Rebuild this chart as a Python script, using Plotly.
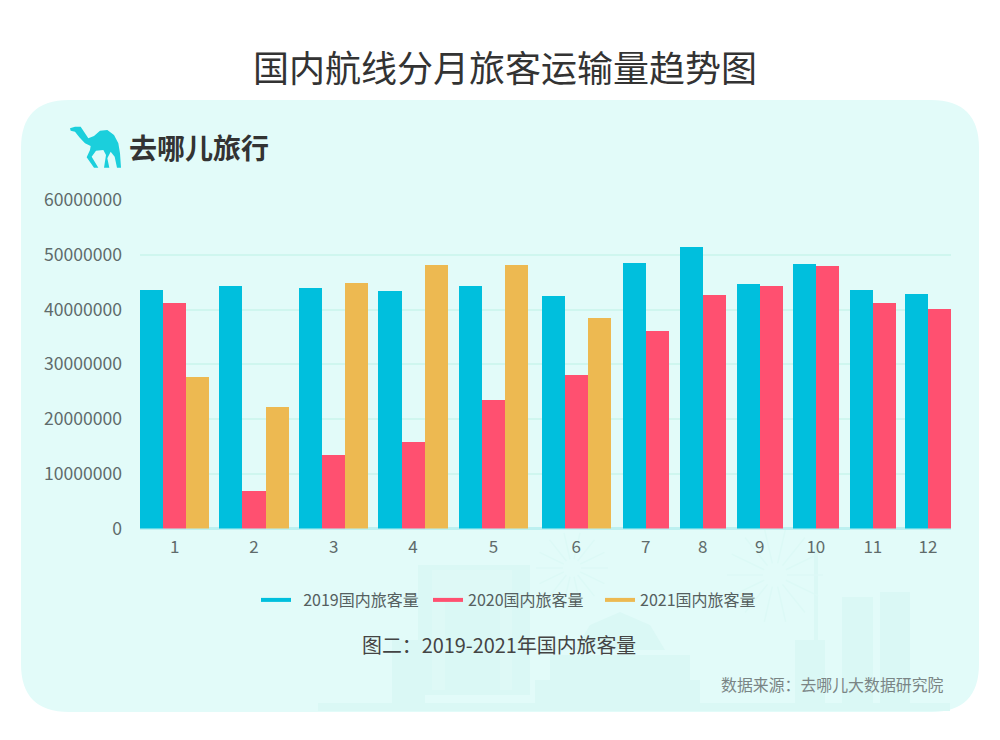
import math
import plotly.graph_objects as go

months = [1, 2, 3, 4, 5, 6, 7, 8, 9, 10, 11, 12]
series_names = ["2019国内旅客量", "2020国内旅客量", "2021国内旅客量"]
values_2019 = [43600000, 44300000, 44000000, 43400000, 44300000, 42500000,
               48500000, 51400000, 44700000, 48300000, 43600000, 42900000]
values_2020 = [41200000, 6900000, 13400000, 15800000, 23500000, 28100000,
               36100000, 42700000, 44300000, 48000000, 41200000, 40100000]
values_2021 = [27700000, 22200000, 44900000, 48200000, 48200000, 38500000,
               None, None, None, None, None, None]
y_ticks = [0, 10000000, 20000000, 30000000, 40000000, 50000000, 60000000]
title_text = "国内航线分月旅客运输量趋势图"
caption_text = "图二：2019-2021年国内旅客量"
source_text = "数据来源：去哪儿大数据研究院"
brand_text = "去哪儿旅行"
colors = ["#00BFDD", "#FF5070", "#EDB951"]

FONT = "Noto Sans CJK SC"
W, H = 1000, 740
CARD = "#E2FBF9"
FAINT = "#DAF8F5"
BAR_PX = 23.1
MONTH_GAPS_PX = [10, 10.4, 10, 11, 13.5, 11.7, 10.8, 10.8, 9.8, 10.8, 8.8, 0]


def X(x):
    return x / W


def Y(y):
    return 1 - y / H


def pth(points, close=True):
    s = "M " + " L ".join(f"{X(a):.5f},{Y(b):.5f}" for a, b in points)
    return s + (" Z" if close else "")


def rect(x0, y0, x1, y1, color=FAINT):
    return dict(type="rect", xref="paper", yref="paper", x0=X(x0), x1=X(x1),
                y0=Y(y1), y1=Y(y0), fillcolor=color, layer="below", line_width=0)


# Slots: each month takes as many slots as it has values, with a gap between months.
all_series = [values_2019, values_2020, values_2021]
positions = [[None] * len(months) for _ in all_series]
centers = []
cursor = 0.0
for m in range(len(months)):
    first = cursor
    for s, vals in enumerate(all_series):
        if vals[m] is not None:
            positions[s][m] = cursor + 0.5
            cursor += 1
    centers.append((first + cursor) / 2)
    cursor += MONTH_GAPS_PX[m] / BAR_PX
x_end = cursor

fig = go.Figure()
for s, vals in enumerate(all_series):
    xs = [p for p in positions[s] if p is not None]
    ys = [v for v in vals if v is not None]
    fig.add_trace(go.Bar(x=xs, y=ys, width=[1] * len(xs), marker_color=colors[s],
                         marker_line_width=0, showlegend=False))
for s, vals in enumerate(all_series):
    fig.add_trace(go.Scatter(x=[None], y=[None], mode="lines",
                             name=("\u00a0\u00a0" if s == 0 else "") + series_names[s],
                             line=dict(color=colors[s], width=4)))

# Rounded card
r = 48
l, t, rr, b = 21, 100, 979, 712
card = (f"M {X(l + r)},{Y(t)} L {X(rr - r)},{Y(t)} Q {X(rr)},{Y(t)} {X(rr)},{Y(t + r)} "
        f"L {X(rr)},{Y(b - r)} Q {X(rr)},{Y(b)} {X(rr - r)},{Y(b)} "
        f"L {X(l + r)},{Y(b)} Q {X(l)},{Y(b)} {X(l)},{Y(b - r)} "
        f"L {X(l)},{Y(t + r)} Q {X(l)},{Y(t)} {X(l + r)},{Y(t)} Z")
shapes = [dict(type="path", path=card, xref="paper", yref="paper", fillcolor=CARD,
               line_width=0, layer="below")]

# Faint skyline decoration
shapes += [
    rect(318, 703, 950, 711),
    rect(392, 640, 425, 703), rect(418, 565, 530, 695),
    rect(432, 570, 512, 690, "#DEF9F6"), rect(445, 600, 500, 690),
    rect(535, 680, 700, 703), rect(550, 655, 690, 680),
    rect(795, 640, 825, 703), rect(814, 545, 818, 640),
    rect(842, 597, 873, 703), rect(880, 592, 910, 703),
]
shapes.append(dict(type="path", xref="paper", yref="paper", layer="below",
                   path=pth([(575, 650), (590, 625), (620, 612), (650, 625), (665, 650)]),
                   fillcolor=FAINT, line_width=0))
for cx, cy, rad in [(572, 568, 36), (775, 575, 48)]:
    for k in range(14):
        a = 2 * math.pi * k / 14
        shapes.append(dict(type="line", xref="paper", yref="paper", layer="below",
                           x0=X(cx + rad * .25 * math.cos(a)), y0=Y(cy + rad * .25 * math.sin(a)),
                           x1=X(cx + rad * math.cos(a)), y1=Y(cy + rad * math.sin(a)),
                           line=dict(color="#DCF9F6", width=1.5)))

# Camel logo
camel_zoom = [(150, 85), (165, 80), (182, 80), (192, 95), (205, 115), (222, 108), (240, 92), (262, 90),
              (282, 105), (295, 130), (300, 160), (303, 203), (291, 203), (284, 170), (272, 155),
              (262, 175), (268, 203), (252, 203), (258, 165), (250, 150), (228, 152), (215, 170),
              (235, 203), (222, 203), (200, 172), (210, 150), (212, 138), (195, 130), (178, 112),
              (165, 95), (152, 92)]
shapes.append(dict(type="path", xref="paper", yref="paper", layer="above", line_width=0,
                   fillcolor="#1BCFDC", path=pth([(20 + a / 3, 100 + c / 3) for a, c in camel_zoom])))


def note(text, x, y, size, color, anchor="center", weight=None):
    return dict(text=text, x=X(x), y=Y(y), xref="paper", yref="paper", showarrow=False,
                xanchor=anchor, yanchor="middle",
                font=dict(family=FONT, size=size, color=color, weight=weight))


fig.update_layout(
    width=W, height=H, autosize=False, margin=dict(l=0, r=0, t=0, b=0, pad=0, autoexpand=False),
    paper_bgcolor="white", plot_bgcolor="rgba(0,0,0,0)",
    barmode="overlay", bargap=0, font=dict(family=FONT, color="#5F6B6B"),
    shapes=shapes,
    annotations=[
        note(title_text, 505, 66, 36, "#333333"),
        note(brand_text, 198.5, 146.5, 28, "#333333", weight=700),
        note(caption_text, 499, 644, 19.9, "#444444"),
        note(source_text, 946, 684, 15.9, "#7A8585", "right"),
    ],
    xaxis=dict(domain=[X(140), X(951)], range=[0, x_end], tickmode="array",
               tickvals=centers, ticktext=[str(m) for m in months],
               showgrid=False, zeroline=False, showline=False, ticks="",
               ticklabelstandoff=6, tickfont=dict(size=17, color="#5F6B6B", family=FONT)),
    yaxis=dict(domain=[Y(528.5), Y(200)], range=[0, 60000000], tickmode="array",
               tickvals=y_ticks, ticktext=[str(v) for v in y_ticks],
               showgrid=True, gridcolor="#CFF6EF", gridwidth=2,
               zeroline=True, zerolinecolor="#BCF0F0", zerolinewidth=3, showline=False,
               ticks="", ticklabelstandoff=17, tickfont=dict(size=17.6, color="#5F6B6B", family=FONT)),
    legend=dict(orientation="h", x=X(514), xref="paper", xanchor="center", y=Y(600), yanchor="middle",
                bgcolor="rgba(0,0,0,0)", font=dict(size=16, color="#555F5F", family=FONT),
                itemwidth=30, entrywidth=127, entrywidthmode="pixels", traceorder="normal"),
)

fig.write_html("out.html", post_script="document.body.style.margin='0';",
               config={"displayModeBar": False})
